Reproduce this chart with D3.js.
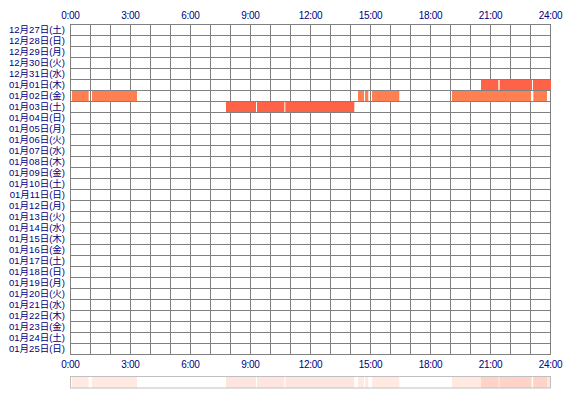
<!DOCTYPE html>
<html><head><meta charset="utf-8">
<script src="https://cdn.jsdelivr.net/npm/d3@7"></script>
<style>body{margin:0;background:#fff}svg{display:block}</style>
</head><body><div id="chart"></div>
<script>
const days = ["12月27日(土)","12月28日(日)","12月29日(月)","12月30日(火)","12月31日(水)",
"01月01日(木)","01月02日(金)","01月03日(土)","01月04日(日)","01月05日(月)","01月06日(火)",
"01月07日(水)","01月08日(木)","01月09日(金)","01月10日(土)","01月11日(日)","01月12日(月)",
"01月13日(火)","01月14日(水)","01月15日(木)","01月16日(金)","01月17日(土)","01月18日(日)",
"01月19日(月)","01月20日(火)","01月21日(水)","01月22日(木)","01月23日(金)","01月24日(土)","01月25日(日)"];
const hourTicks = [0,3,6,9,12,15,18,21,24];
const tickLabels = ["0:00","3:00","6:00","9:00","12:00","15:00","18:00","21:00","24:00"];
// sessions (minutes since midnight)
const sessionDay = ["01月01日(木)","01月01日(木)","01月01日(木)",
  "01月02日(金)","01月02日(金)","01月02日(金)","01月02日(金)","01月02日(金)","01月02日(金)","01月02日(金)",
  "01月03日(土)","01月03日(土)","01月03日(土)"];
const sessionStart = [1230,1286,1386, 3,63,861,882,903,1143,1387, 465,558,643];
const sessionEnd   = [1282,1383,1440, 53,198,879,892,985,1380,1428, 555,640,850];

const W=570,H=400, L=70, R=550, T=24, rowH=11;
const svg=d3.select("#chart").append("svg").attr("width",W).attr("height",H);
const x=d3.scaleLinear().domain([0,1440]).range([L,R]);
const y=d3.scaleBand().domain(days).range([T,T+rowH*days.length]);
const color=d=> d==="01月02日(金)" ? "#FF7F50" : "#FF6347";
const font="'Liberation Sans', 'Noto Sans CJK JP', sans-serif";
const navy="#000080";
const B=T+rowH*days.length;

// grid
const g=svg.append("g").attr("stroke","#808080").attr("stroke-width",1);
d3.range(0,25).forEach(h=>{
  g.append("line").attr("x1",x(h*60)+0.5).attr("x2",x(h*60)+0.5).attr("y1",T).attr("y2",B+1);
});
d3.range(0,days.length+1).forEach(i=>{
  g.append("line").attr("x1",L).attr("x2",R+1).attr("y1",T+i*rowH+0.5).attr("y2",T+i*rowH+0.5);
});

// bars
const idx=d3.range(sessionDay.length);
svg.append("g").selectAll("rect").data(idx).join("rect")
  .attr("x",i=>x(sessionStart[i])+1)
  .attr("width",i=>x(sessionEnd[i])-x(sessionStart[i]))
  .attr("y",i=>y(sessionDay[i])+1)
  .attr("height",rowH-1)
  .attr("fill",i=>color(sessionDay[i]));

// day labels
svg.append("g").selectAll("text").data(days).join("text")
  .attr("x",65).attr("y",d=>y(d)+rowH/2+0.5).attr("dy","0.35em")
  .attr("text-anchor","end").attr("font-family",font).attr("font-size",9.5).attr("fill",navy)
  .text(d=>d);

// hour labels top and bottom
[15.5,364.5].forEach(yy=>{
  svg.append("g").selectAll("text").data(hourTicks).join("text")
    .attr("x",(d)=>x(d*60)+0.5).attr("y",yy).attr("dy","0.35em")
    .attr("text-anchor","middle").attr("font-family",font).attr("font-size",10).attr("fill",navy)
    .attr("letter-spacing","-0.3")
    .text((d,i)=>tickLabels[i]);
});

// overview strip
svg.append("g").selectAll("rect").data(idx).join("rect")
  .attr("x",i=>x(sessionStart[i])+1)
  .attr("width",i=>x(sessionEnd[i])-x(sessionStart[i]))
  .attr("y",377).attr("height",11)
  .attr("fill",i=>color(sessionDay[i])).attr("fill-opacity",0.17);
svg.append("rect").attr("x",L+0.5).attr("y",376.5).attr("width",R-L).attr("height",11.5)
  .attr("fill","none").attr("stroke","#c0c0c0");
</script></body></html>
